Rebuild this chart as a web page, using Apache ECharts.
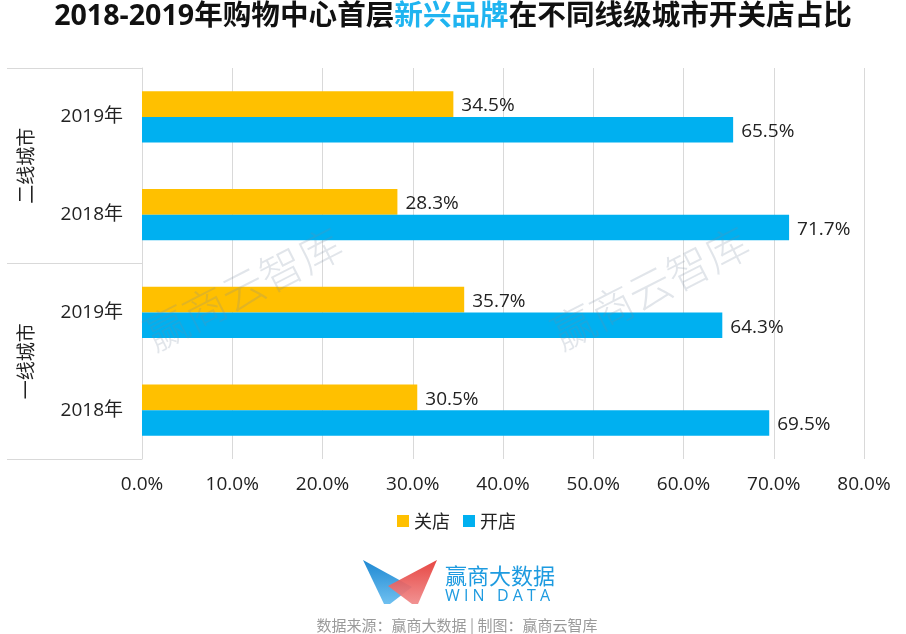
<!DOCTYPE html>
<html><head><meta charset="utf-8">
<style>html,body{margin:0;padding:0;background:#fff}#c{width:906px;height:634px}</style>
<script src="https://cdn.jsdelivr.net/npm/echarts@6/dist/echarts.min.js"></script>
</head><body><div id="c"></div>
<script>
const years = ['2019年','2018年','2019年','2018年'];
const cityTiers = ['二线城市','一线城市'];
const closeValues = [34.5,28.3,35.7,30.5];
const openValues = [65.5,71.7,64.3,69.5];
const xTicks = {min:0,max:80,interval:10};
const FONT = '"Open Sans","Noto Sans CJK SC",sans-serif';
const CJK = '"Noto Sans CJK SC",sans-serif';
const chart = echarts.init(document.getElementById('c'));
const label = {show:true,position:'right',distance:8,offset:[0,2],formatter:p=>p.value.toFixed(1)+'%',color:'#222',fontSize:19,fontFamily:FONT};
function wm(x,y){return {type:'text',x:x,y:y,rotation:Math.PI/180*27,z:50,silent:true,
  style:{text:'赢商云智库',font:'300 43px '+CJK,fill:'rgba(120,135,160,0.22)',textAlign:'center',textVerticalAlign:'middle'}};}
chart.setOption({
  animation:false,
  backgroundColor:'#fff',
  title:{left:'center',top:-2,itemGap:0,text:'{a|2018-2019年购物中心首层}{b|新兴品牌}{a|在不同线级城市开关店占比}',
    textStyle:{rich:{
      a:{fontSize:28.6,fontWeight:'bold',color:'#111',fontFamily:FONT},
      b:{fontSize:28.6,fontWeight:'bold',color:'#1FB4F0',fontFamily:FONT}}}},
  legend:{data:['关店','开店'],left:392,top:507,itemWidth:12,itemHeight:12,itemGap:13,icon:'rect',
    textStyle:{fontSize:18,color:'#222',fontFamily:CJK,padding:[0,0,0,0]}},
  grid:{left:142,right:42,top:68,bottom:175,containLabel:false},
  xAxis:{type:'value',min:xTicks.min,max:xTicks.max,interval:xTicks.interval,
    axisLabel:{formatter:v=>v.toFixed(1)+'%',color:'#222',fontSize:19,fontFamily:FONT,margin:16},
    axisLine:{show:false},axisTick:{show:false},
    splitLine:{show:true,lineStyle:{color:'#D9D9D9',width:1}}},
  yAxis:[
    {type:'category',inverse:true,data:years,
      axisLine:{show:true,lineStyle:{color:'#D9D9D9',width:1}},axisTick:{show:false},
      axisLabel:{color:'#222',fontSize:19,fontFamily:FONT,margin:19}},
    {type:'category',inverse:true,data:cityTiers,position:'left',
      axisLine:{show:false},
      axisTick:{show:true,length:135,alignWithLabel:false,lineStyle:{color:'#D9D9D9',width:1}},
      axisLabel:{color:'#222',fontSize:19,fontFamily:CJK,rotate:90,margin:107}}
  ],
  series:[
    {name:'关店',type:'bar',data:closeValues,barWidth:25.6,barGap:'0%',itemStyle:{color:'#FFC000'},label:label},
    {name:'开店',type:'bar',data:openValues,barWidth:25.6,barGap:'0%',itemStyle:{color:'#00B0F0'},label:label}
  ],
  graphic:[
    wm(243,289), wm(650,288),
    {type:'polygon',z:60,shape:{points:[[363,560],[412,587],[390,604],[384,604]]},
      style:{fill:new echarts.graphic.LinearGradient(0,0,0,1,[{offset:0,color:'#1E88D2'},{offset:1,color:'#6FC0F0'}])}},
    {type:'polygon',z:61,shape:{points:[[437,560],[388,586],[412,604],[418,604]]},
      style:{fill:new echarts.graphic.LinearGradient(0,0,0,1,[{offset:0,color:'#E53935'},{offset:1,color:'#F08A8A'}]),opacity:0.93}},
    {type:'text',z:60,x:445,y:576,style:{text:'赢商大数据',font:'22px '+CJK,fill:'#1E9BE0',textVerticalAlign:'middle'}},
    {type:'text',z:60,x:445,y:596,style:{text:'W I N   D A T A',font:'16px "Open Sans",sans-serif',fill:'#1E9BE0',textVerticalAlign:'middle'}},
    {type:'text',z:60,x:457,y:625,style:{text:'数据来源：赢商大数据 | 制图：赢商云智库',font:'15px '+CJK,fill:'#9A9A9A',textAlign:'center',textVerticalAlign:'middle'}}
  ]
});
</script></body></html>
